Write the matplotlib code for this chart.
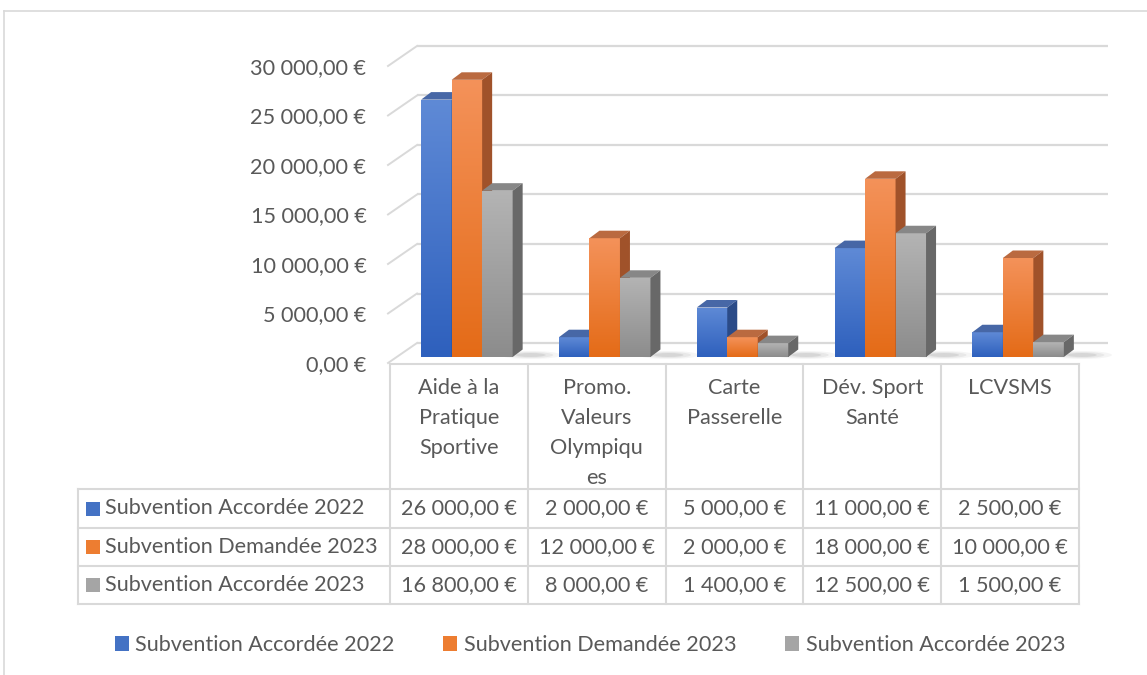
import numpy as np
import matplotlib
matplotlib.use("Agg")
import matplotlib.pyplot as plt
import matplotlib.transforms as mtransforms
from matplotlib.patches import Polygon, Rectangle, Ellipse
from matplotlib.colors import LinearSegmentedColormap

# ---------------- data ----------------
categories = ["Aide à la\nPratique\nSportive", "Promo.\nValeurs\nOlympiqu\nes",
              "Carte\nPasserelle", "Dév. Sport\nSanté", "LCVSMS"]
series_names = ["Subvention Accordée 2022", "Subvention Demandée 2023", "Subvention Accordée 2023"]
accordee_2022 = [26000, 2000, 5000, 11000, 2500]
demandee_2023 = [28000, 12000, 2000, 18000, 10000]
accordee_2023 = [16800, 8000, 1400, 12500, 1500]
y_ticks = [0, 5000, 10000, 15000, 20000, 25000, 30000]

series_values = [accordee_2022, demandee_2023, accordee_2023]

# ---------------- styles ----------------
front_top = ["#5F8AD6", "#F4925A", "#B4B4B4"]
front_bot = ["#2E60BD", "#E46B17", "#8C8C8C"]
top_col = ["#4767A6", "#BA6A40", "#878787"]
side_col = ["#2B4B88", "#A0522A", "#686868"]
legend_col = ["#4472C4", "#ED7D31", "#A5A5A5"]
grid_col = "#D9D9D9"
text_col = "#595959"
FONT = "Lato"
FS = 15.6

W, H = 1147, 675
DPI = 100
fig = plt.figure(figsize=(W / DPI, H / DPI), dpi=DPI)
plt.rcParams['font.family'] = [FONT, 'DejaVu Sans']

def fx(x):
    return x / W

def fy(y):
    return 1 - y / H

# plot area in pixels (front plane)
X0, X1 = 390, 1079
Y_BASE = 363   # value 0 on front plane
Y_TOP = 40
PX_PER_UNIT = 9.9 / 1000.0
ax = fig.add_axes([fx(X0), fy(Y_BASE), fx(X1) - fx(X0), fy(Y_TOP) - fy(Y_BASE)])
n = len(categories)
ax.set_xlim(0, n)
ymax = (Y_BASE - Y_TOP) / PX_PER_UNIT
ax.set_ylim(0, ymax)
for s in ax.spines.values():
    s.set_visible(False)
ax.set_xticks([])
ax.patch.set_alpha(0)

px_x = n / (X1 - X0)          # data units per pixel in x
px_y = 1 / PX_PER_UNIT        # data units per pixel in y

# 3D offsets
WALL_DX, WALL_DY = 27 * px_x, 20 * px_y
BAR_DX, BAR_DY = 8 * px_x, 6 * px_y      # bar front offset from front plane
DEP_DX, DEP_DY = 10 * px_x, 7.5 * px_y   # bar depth

# back wall gridlines + left diagonals
for t in y_ticks:
    ax.plot([WALL_DX, n + WALL_DX + 2 * px_x], [t + WALL_DY, t + WALL_DY],
            color=grid_col, lw=1.6, clip_on=False, zorder=1, solid_capstyle='butt')
    ax.plot([0 - 2 * px_x, WALL_DX], [t, t + WALL_DY], color=grid_col, lw=1.4,
            clip_on=False, zorder=1)

ax.set_yticks(y_ticks)
ax.set_yticklabels([f"{v:,.2f}".replace(",", " ").replace(".", ",") + " €" for v in y_ticks],
                   fontsize=FS, color=text_col, fontfamily=FONT)
ax.tick_params(axis='y', length=0, pad=17)

# bars
bw = 30.5 * px_x
grad = np.linspace(0, 1, 256).reshape(-1, 1)
for i in range(n):
    # floor shadow
    cx = i + 0.5 + BAR_DX + 1.5 * bw + 12 * px_x
    for k, a in enumerate([0.05, 0.07, 0.1]):
        e = Ellipse((cx + 6 * px_x, BAR_DY + 2 * px_y), (60 - 15 * k) * px_x, (8 - 2 * k) * px_y,
                    color="#404040", alpha=a, lw=0, zorder=2, clip_on=False)
        ax.add_patch(e)
    for k in range(3):
        v = series_values[k][i]
        xl = i + 0.5 + (k - 1.5) * bw + BAR_DX
        xr = xl + bw
        b0 = BAR_DY
        b1 = BAR_DY + v
        cmap = LinearSegmentedColormap.from_list("g", [front_bot[k], front_top[k]])
        rect = ax.bar(xl, v, width=bw, bottom=b0, align='edge', color=front_bot[k],
                      lw=0, zorder=3 + k)[0]
        im = ax.imshow(grad, extent=[xl, xr, b0, b1], origin='lower', cmap=cmap,
                       aspect='auto', zorder=3 + k, interpolation='bilinear')
        im.set_clip_path(rect)
        top = Polygon([[xl, b1], [xr, b1], [xr + DEP_DX, b1 + DEP_DY], [xl + DEP_DX, b1 + DEP_DY]],
                      closed=True, color=top_col[k], lw=0, zorder=3 + k, clip_on=False)
        side = Polygon([[xr, b0], [xr + DEP_DX, b0 + DEP_DY], [xr + DEP_DX, b1 + DEP_DY], [xr, b1]],
                       closed=True, color=side_col[k], lw=0, zorder=3 + k, clip_on=False)
        ax.add_patch(top)
        ax.add_patch(side)

ax.set_xlim(0, n)
ax.set_ylim(0, ymax)

# ---------------- data table ----------------
tr = mtransforms.blended_transform_factory(ax.transData, fig.transFigure)
T_TOP, T_ROWS = 364, [489, 528, 566, 604]
T_LEFT = 78
lw_t = 1.5
for j in range(n + 1):
    fig.add_artist(plt.Line2D([j, j], [fy(T_TOP), fy(T_ROWS[-1])], transform=tr,
                              color=grid_col, lw=lw_t))
fig.add_artist(plt.Line2D([0, n], [fy(T_TOP), fy(T_TOP)], transform=tr, color=grid_col, lw=lw_t))
for yy in T_ROWS:
    fig.add_artist(plt.Line2D([fx(T_LEFT), fx(X1)], [fy(yy), fy(yy)],
                              transform=fig.transFigure, color=grid_col, lw=lw_t))
fig.add_artist(plt.Line2D([fx(T_LEFT), fx(T_LEFT)], [fy(T_ROWS[0]), fy(T_ROWS[-1])],
                          transform=fig.transFigure, color=grid_col, lw=lw_t))

# header labels
for j, c in enumerate(categories):
    fig.text(j + 0.5, fy(378), c, transform=tr, ha='center', va='top', fontsize=FS,
             color=text_col, linespacing=1.62, fontfamily=FONT)

def fmt(v):
    return f"{v:,.2f}".replace(",", " ").replace(".", ",") + " €"

for r in range(3):
    yc = fy((T_ROWS[r] + T_ROWS[r + 1]) / 2)
    fig.patches.append(Rectangle((fx(86), yc - 7 / H), 14 / W, 14 / H, transform=fig.transFigure,
                                 color=legend_col[r], lw=0))
    fig.text(fx(105), yc, series_names[r], ha='left', va='center', fontsize=FS,
             color=text_col, fontfamily=FONT)
    for j in range(n):
        fig.text(j + 0.5, yc, fmt(series_values[r][j]), transform=tr, ha='center',
                 va='center', fontsize=FS, color=text_col, fontfamily=FONT)

# chart border
fig.add_artist(plt.Line2D([fx(4), 1], [fy(11), fy(11)], transform=fig.transFigure,
                          color=grid_col, lw=1.2))
fig.add_artist(plt.Line2D([fx(4), fx(4)], [fy(11), 0], transform=fig.transFigure,
                          color=grid_col, lw=1.2))

# legend
handles = [Rectangle((0, 0), 1, 1, color=legend_col[k], lw=0) for k in range(3)]
fig.legend(handles, series_names, loc='center', bbox_to_anchor=(fx(590), fy(645)), ncol=3,
           frameon=False, handlelength=0.65, handleheight=0.65,
           handletextpad=0.3, columnspacing=2.25, labelcolor=text_col,
           prop={'family': FONT, 'size': FS})

fig.savefig("out.png", dpi=DPI)
